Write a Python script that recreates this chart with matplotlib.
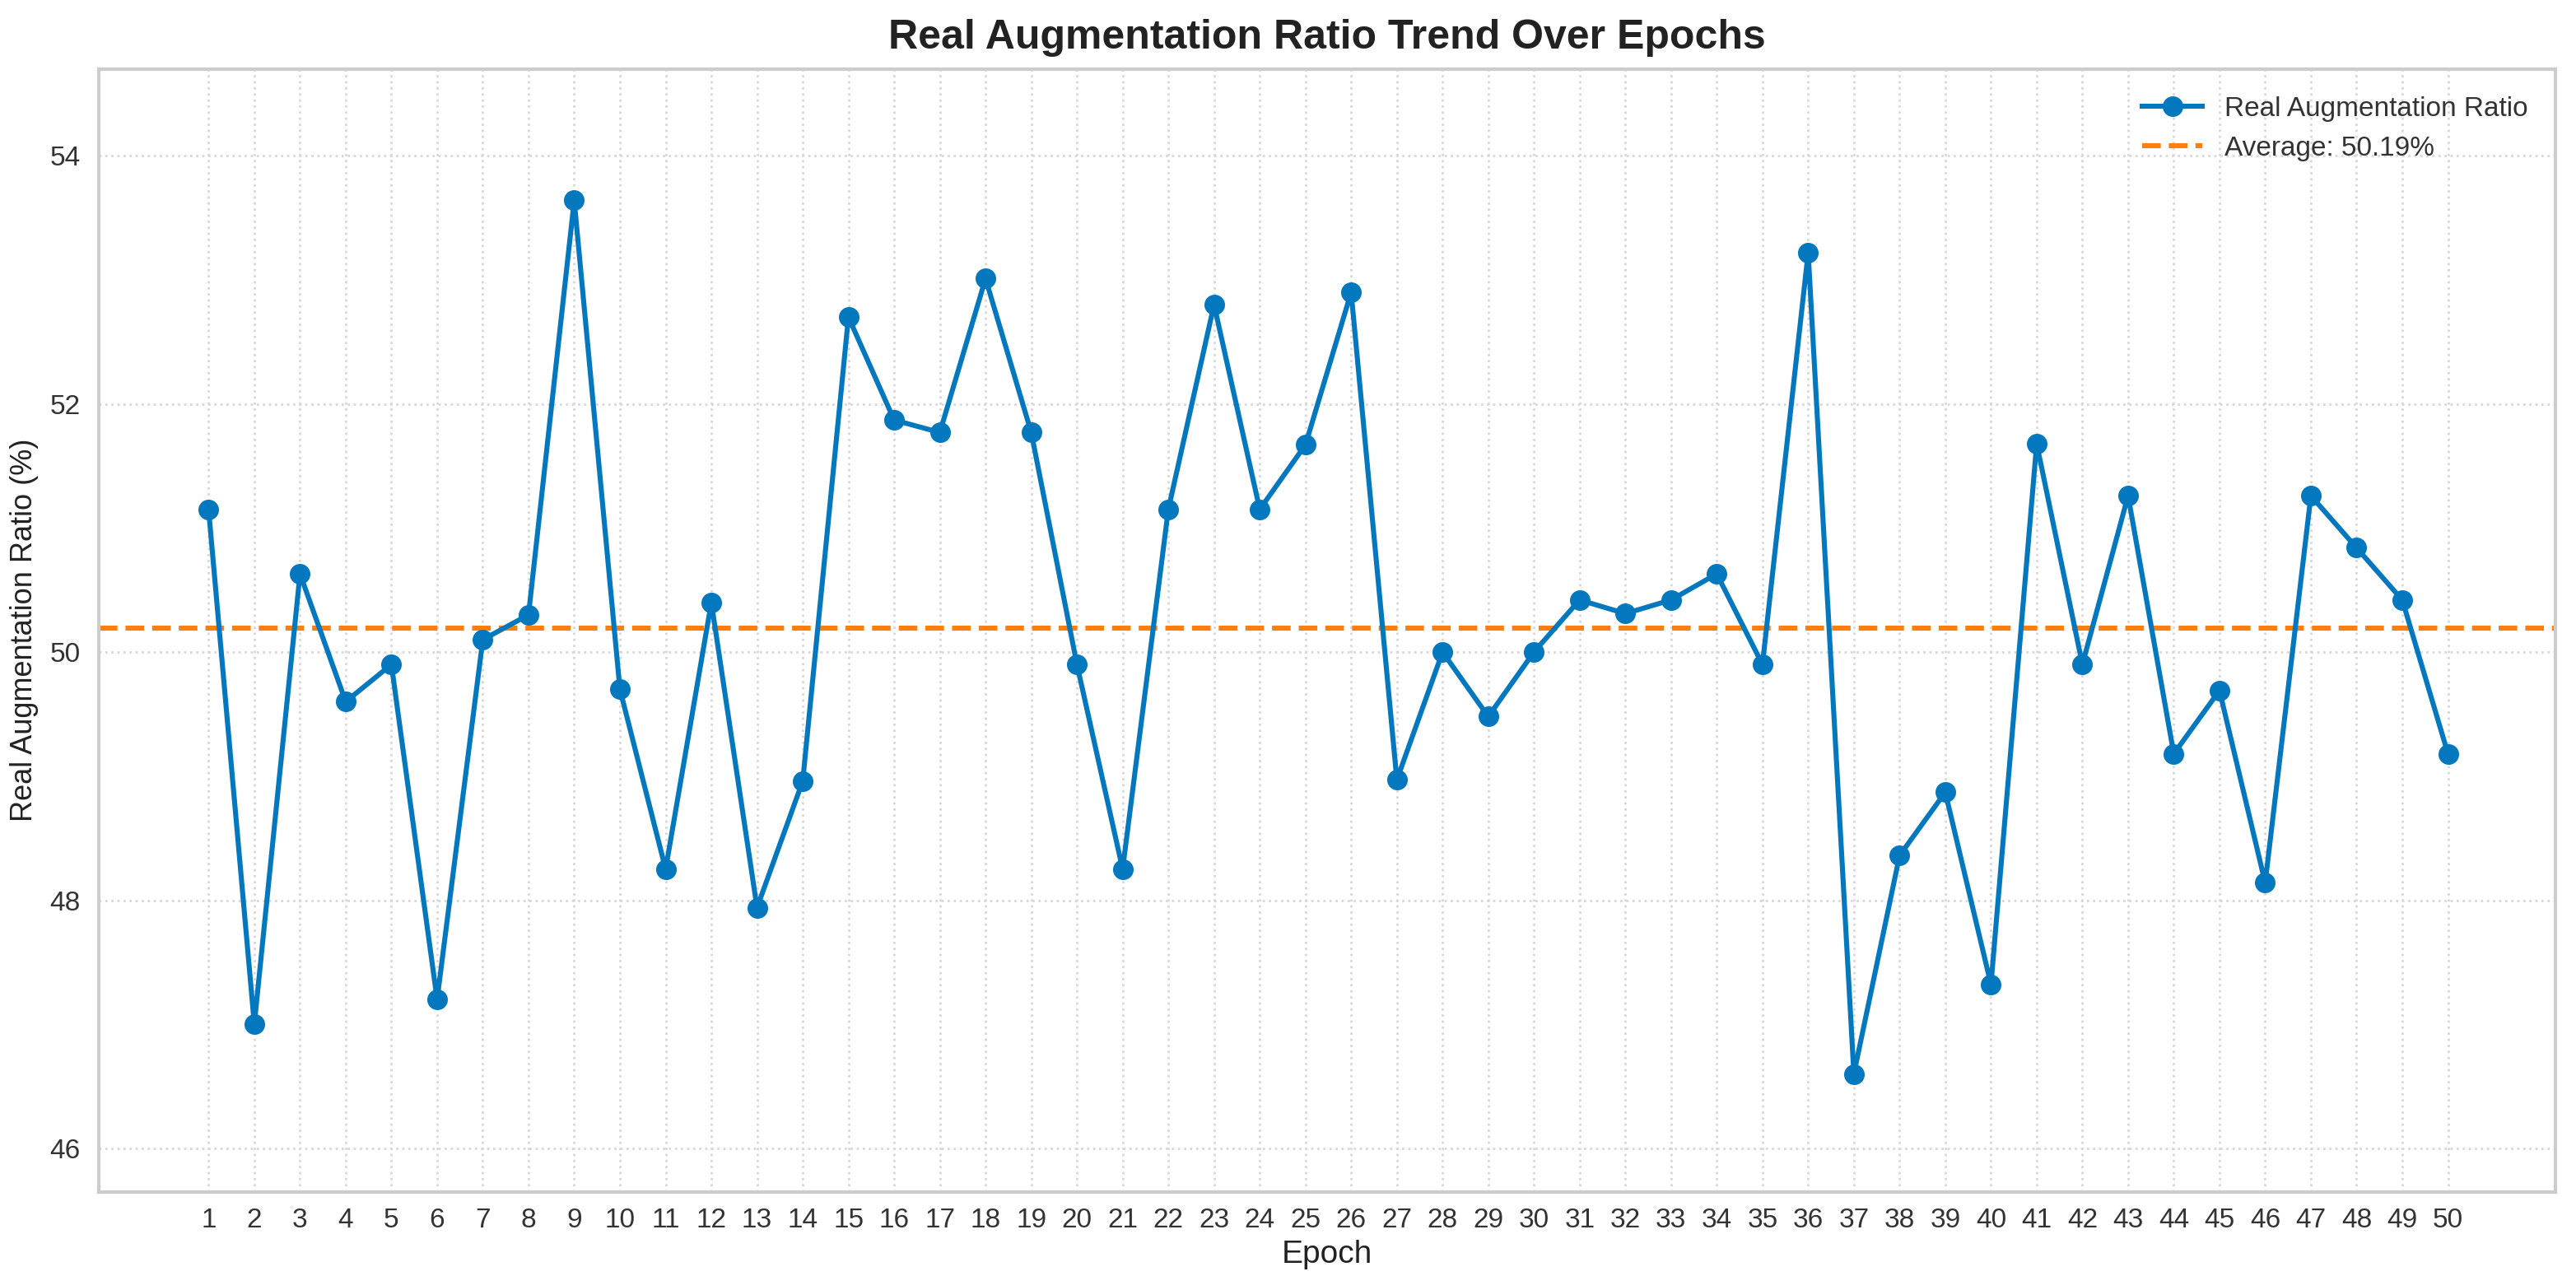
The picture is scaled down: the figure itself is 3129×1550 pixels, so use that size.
import matplotlib
matplotlib.use("Agg")
import matplotlib.pyplot as plt

epochs = list(range(1, 51))
ratios = [51.15, 47.00, 50.63, 49.60, 49.90, 47.20, 50.10, 50.30, 53.64, 49.70,
          48.25, 50.40, 47.94, 48.96, 52.70, 51.87, 51.77, 53.01, 51.77, 49.90,
          48.25, 51.15, 52.80, 51.15, 51.67, 52.90, 48.97, 50.00, 49.48, 50.00,
          50.42, 50.31, 50.42, 50.63, 49.90, 53.22, 46.60, 48.36, 48.87, 47.32,
          51.68, 49.90, 51.26, 49.18, 49.69, 48.14, 51.26, 50.84, 50.42, 49.18]
average = 50.19
y_ticks = [46, 48, 50, 52, 54]

plt.rcParams['font.family'] = ['Liberation Sans', 'DejaVu Sans']

fig = plt.figure(figsize=(3129 / 200, 1550 / 200), dpi=200)
ax = fig.add_axes([0.0384, 0.066, 0.9536, 0.880])

blue = '#0478BE'
orange = '#FF7F0E'

ax.plot(epochs, ratios, color=blue, marker='o', markersize=8, linewidth=2.2,
        label='Real Augmentation Ratio', zorder=3)
ax.axhline(average, color=orange, linestyle='--', linewidth=2.2,
           label=f'Average: {average:.2f}%', zorder=2)

ax.set_xlim(-1.4, 52.35)
ax.set_ylim(45.65, 54.7)
ax.set_xticks(epochs)
ax.set_yticks(y_ticks)
ax.tick_params(axis='both', labelsize=12, length=0, colors='#333333')
ax.tick_params(axis='x', pad=7)
ax.tick_params(axis='y', pad=8)

ax.grid(True, linestyle=':', color='#d8d8d8', linewidth=1.0)
ax.set_axisbelow(True)
for s in ax.spines.values():
    s.set_color('#cccccc')
    s.set_linewidth(1.5)

ax.set_title('Real Augmentation Ratio Trend Over Epochs', fontsize=18,
             fontweight='bold', pad=9, color='#222222')
ax.set_xlabel('Epoch', fontsize=14, color='#222222', labelpad=3)
ax.set_ylabel('Real Augmentation Ratio (%)', fontsize=13, color='#222222', labelpad=5)

leg = ax.legend(loc='upper right', fontsize=12, frameon=False,
                handlelength=2.2, borderaxespad=0.6)
for t in leg.get_texts():
    t.set_color('#333333')

fig.savefig('out.png', dpi=200, facecolor='white')
